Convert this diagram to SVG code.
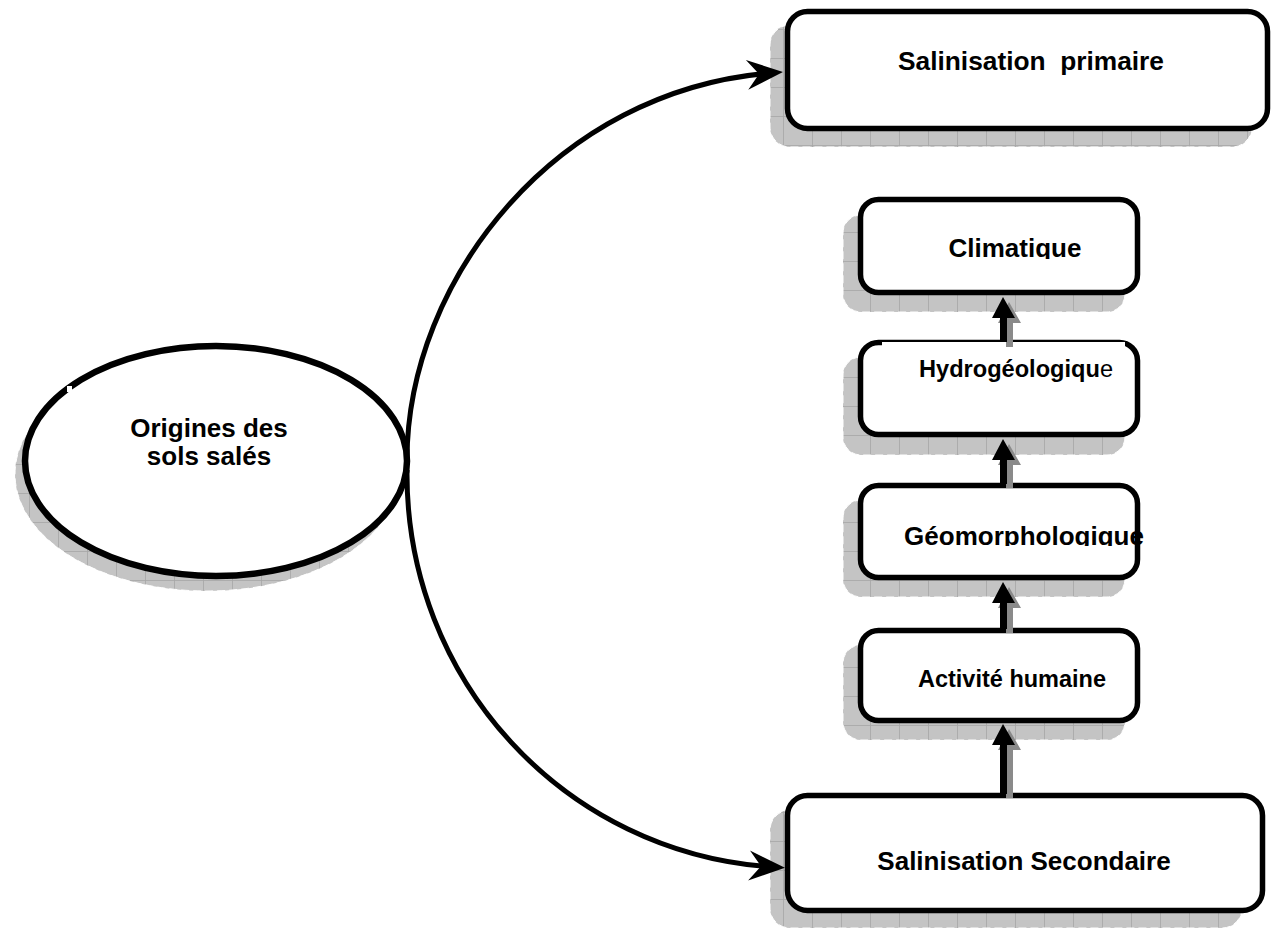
<svg xmlns="http://www.w3.org/2000/svg" width="1271" height="929" viewBox="0 0 1271 929">
  <defs>
    <!-- hatched grey fill used for the drop shadows -->
    <pattern id="grid" width="29" height="29" patternUnits="userSpaceOnUse">
      <rect width="29" height="29" fill="#c4c4c4"/>
      <path d="M0 0.5 H29 M0.5 0 V29" stroke="#a6a6a6" stroke-width="0.8" fill="none"/>
    </pattern>
    <!-- barbed arrowhead for the curved connectors -->
    <marker id="barb" viewBox="-26 -16 40 32" refX="0" refY="0" markerWidth="40" markerHeight="32" markerUnits="userSpaceOnUse" orient="auto">
      <path d="M12 0 L-24 -15 L-12 0 L-24 15 Z" fill="#000"/>
    </marker>
    <clipPath id="clipClim"><rect x="860" y="200" width="278" height="59"/></clipPath>
    <clipPath id="clipGeo"><rect x="860" y="486" width="300" height="60"/></clipPath>
  </defs>
  <style>
    .shadow { fill: url(#grid); stroke: #ffffff; stroke-width: 1; stroke-dasharray: 8 4; }
    .box { fill: #ffffff; stroke: #000000; stroke-width: 5.5; }
    .label { font-family: "Liberation Sans", Arial, sans-serif; font-weight: bold; fill: #000000; text-anchor: middle; }
    .curve { fill: none; stroke: #000000; stroke-width: 5; }
    .up-shadow { fill: #8a8a8a; }
    .up { fill: #000000; }
  </style>

  <rect width="1271" height="929" fill="#ffffff"/>

  <!-- central ellipse -->
  <g id="origines">
    <ellipse class="shadow" cx="207" cy="474" rx="192" ry="117"/>
    <ellipse cx="216" cy="461" rx="191" ry="115" fill="#ffffff" stroke="#000" stroke-width="6.5"/>
    <rect x="67" y="386" width="5" height="6" fill="#ffffff"/>
    <text class="label" font-size="26" x="209" y="437">Origines des</text>
    <text class="label" font-size="26" x="209" y="465">sols salés</text>
  </g>

  <g id="primaire">
    <rect class="shadow" x="770" y="25" width="482" height="122" rx="20"/>
    <rect class="box" x="787.5" y="11.5" width="480" height="117" rx="20"/>
    <text class="label" font-size="26.3" x="1031" y="70" xml:space="preserve">Salinisation  primaire</text>
  </g>

  <g id="climatique">
    <rect class="shadow" x="843" y="215" width="282" height="97" rx="18"/>
    <rect class="box" x="860.5" y="199.5" width="277" height="93" rx="18"/>
    <text class="label" font-size="26" x="1015" y="257" clip-path="url(#clipClim)">Climatique</text>
  </g>

  <g id="hydrogeologique">
    <rect class="shadow" x="843" y="357" width="282" height="98" rx="18"/>
    <rect class="box" x="860.5" y="342.5" width="277" height="92" rx="18"/>
    <rect x="882" y="342" width="243" height="5.5" fill="#ffffff"/>
    <text class="label" font-size="23.6" x="1016" y="377">Hydrogéologiqu<tspan font-weight="normal">e</tspan></text>
  </g>

  <g id="geomorphologique">
    <rect class="shadow" x="843" y="500" width="282" height="97" rx="18"/>
    <rect class="box" x="860.5" y="485.5" width="277" height="92" rx="18"/>
    <text class="label" font-size="26" x="1024" y="545" clip-path="url(#clipGeo)">Géomorphologique</text>
  </g>

  <g id="activite">
    <rect class="shadow" x="843" y="645" width="282" height="95" rx="18"/>
    <rect class="box" x="860.5" y="630.5" width="277" height="90" rx="18"/>
    <text class="label" font-size="23.5" x="1012" y="687">Activité humaine</text>
  </g>

  <g id="secondaire">
    <rect class="shadow" x="770" y="810" width="472" height="118" rx="20"/>
    <rect class="box" x="787.5" y="795.5" width="475" height="115" rx="20"/>
    <text class="label" font-size="26" x="1024" y="870">Salinisation Secondaire</text>
  </g>

  <g id="connectors">
    <!-- curved links from the ellipse -->
    <path class="curve" d="M407 460 C407 280 556 90 771 73" marker-end="url(#barb)"/>
    <path class="curve" d="M407 470 C405 680 565 854 773 867" marker-end="url(#barb)"/>

    <!-- upward block arrows: grey offset copy then black -->
    <path class="up-shadow" d="M1009 302 L1021 323 L1013 323 L1013 347 L1006 347 L1006 323 L998 323 Z"/>
    <path class="up" d="M1003 297 L1015 318 L1007 318 L1007 342 L1000 342 L1000 318 L992 318 Z"/>

    <path class="up-shadow" d="M1009 444 L1021 465 L1013 465 L1013 488 L1006 488 L1006 465 L998 465 Z"/>
    <path class="up" d="M1003 439 L1015 460 L1007 460 L1007 484 L1000 484 L1000 460 L992 460 Z"/>

    <path class="up-shadow" d="M1009 587 L1021 608 L1013 608 L1013 633 L1006 633 L1006 608 L998 608 Z"/>
    <path class="up" d="M1003 582 L1015 603 L1007 603 L1007 629 L1000 629 L1000 603 L992 603 Z"/>

    <path class="up-shadow" d="M1009 729 L1021 750 L1013 750 L1013 798 L1006 798 L1006 750 L998 750 Z"/>
    <path class="up" d="M1003 724 L1015 745 L1007 745 L1007 794 L1000 794 L1000 745 L992 745 Z"/>
  </g>
</svg>
